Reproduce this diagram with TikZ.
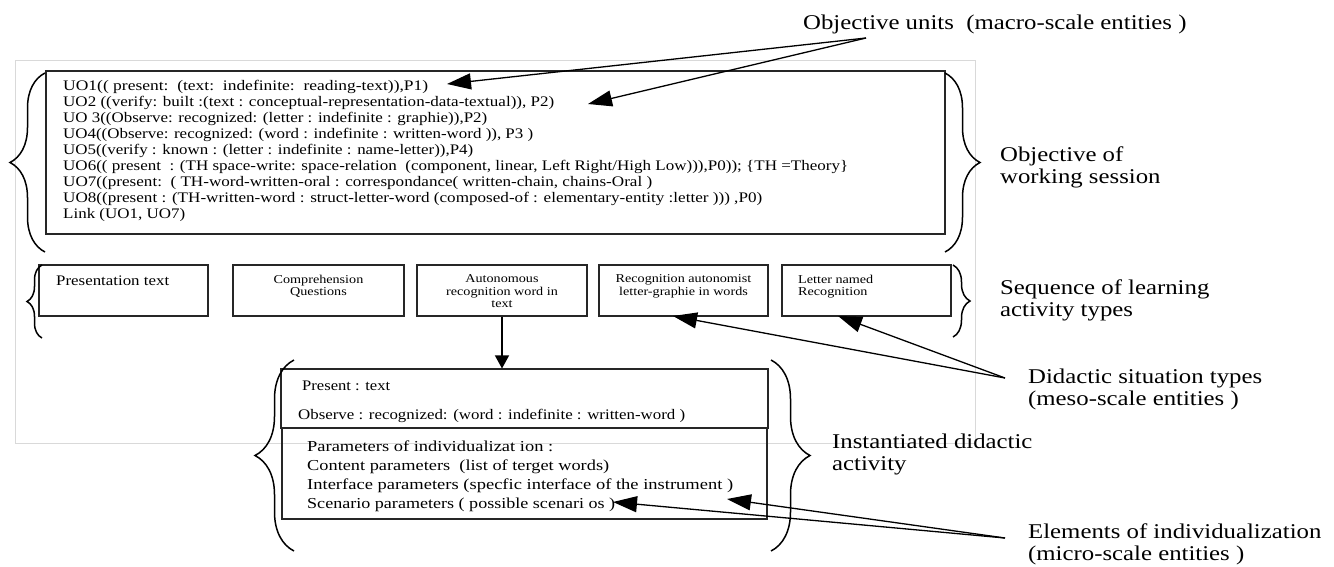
\documentclass[tikz,border=0pt]{standalone}
\usepackage{fontspec}
\usepackage{graphicx}
\setmainfont{Liberation Serif}[FakeStretch=1.18]
\usetikzlibrary{arrows.meta,decorations.pathreplacing}
\newcommand\fitto[2]{\resizebox{#1}{\height}{#2}}
\tikzset{
  box/.style={draw=black!85, line width=1.1pt, inner sep=0pt},
  arr/.style={line width=1.3pt, -{Triangle[length=24pt,width=16pt]}},
  arrsmall/.style={line width=1.3pt, -{Triangle[length=13pt,width=14pt]}},
  brc/.style={decorate, decoration={brace, amplitude=#1}, line width=1.5pt},
  uo/.style={anchor=base west, inner sep=0pt, font=\fontsize{14.6}{16}\selectfont},
  uol/.style={anchor=base west, inner sep=0pt, font=\fontsize{15.2}{16}\selectfont},
  lab/.style={anchor=west, inner sep=0pt, align=left, font=\fontsize{21}{22}\selectfont},
  lab1/.style={anchor=base west, inner sep=0pt, font=\fontsize{21}{22}\selectfont},
  small/.style={inner sep=0pt, font=\fontsize{12}{12.5}\selectfont},
}
\begin{document}
\begin{tikzpicture}[x=1pt,y=-1pt]
\useasboundingbox[fill=white] (0,0) rectangle (1334,566);
% light background frame
\draw[black!15, line width=0.8pt] (15,60) rectangle (975,443);

% objective box
\node[box, minimum width=899, minimum height=163] (uobox) at (495.5,152.5) {};
\node[uo] (u1) at (63,90)  {\fitto{365pt}{UO1(( present:\ \ (text:\ \ indefinite:\ \ reading-text)),P1)}};
\node[uo] (u2) at (63,106) {\fitto{491pt}{UO2 ((verify: built :(text : conceptual-representation-data-textual)), P2)}};
\node[uo] (u3) at (63,122) {\fitto{424pt}{UO 3((Observe: recognized: (letter : indefinite : graphie)),P2)}};
\node[uo] (u4) at (63,138) {\fitto{470pt}{UO4((Observe: recognized: (word : indefinite : written-word )), P3 )}};
\node[uo] (u5) at (63,154) {\fitto{410pt}{UO5((verify : known : (letter : indefinite : name-letter)),P4)}};
\node[uo] (u6) at (63,170) {\fitto{785pt}{UO6(( present\ \ : (TH space-write: space-relation\ \ (component, linear, Left Right/High Low))),P0)); \{TH =Theory\}}};
\node[uo] (u7) at (63,186) {\fitto{589pt}{UO7((present:\ \ ( TH-word-written-oral : correspondance( written-chain, chains-Oral )}};
\node[uo] (u8) at (63,202) {\fitto{699pt}{UO8((present : (TH-written-word : struct-letter-word (composed-of : elementary-entity :letter ))) ,P0)}};
\node[uo] (u9) at (63,218) {\fitto{122pt}{Link (UO1, UO7)}};

% braces of objective box
\draw[brc=35pt] (45,252) -- (45,73);
\draw[brc=35pt] (945,73) -- (945,252);

% activity boxes
\node[box, minimum width=169, minimum height=51] (a1) at (123.5,290.5) {};
\node[box, minimum width=171, minimum height=51] (a2) at (318.5,290.5) {};
\node[box, minimum width=170, minimum height=51] (a3) at (502,290.5) {};
\node[box, minimum width=169, minimum height=51] (a4) at (683.5,290.5) {};
\node[box, minimum width=169, minimum height=51] (a5) at (866.5,290.5) {};
\node[uo] (t1) at (56,285) {\fitto{113pt}{Presentation text}};
\node[small, anchor=north, align=center] (t2) at (318.5,274.5) {Comprehension\\Questions};
\node[small, anchor=north, align=center] (t3) at (502,274.5) {Autonomous\\recognition word in\\text};
\node[small, anchor=north, align=center] (t4) at (683.5,274.5) {Recognition autonomist\\letter-graphie in words};
\node[small, anchor=north west, align=left] (t5) at (798,274.5) {Letter named\\Recognition};
\draw[brc=15pt] (42,338) -- (42,265);
\draw[brc=17pt] (953,265) -- (953,337);

% instantiated activity
\node[box, minimum width=487, minimum height=59] (iup) at (524.5,398.5) {};
\node[box, line width=1.8pt, minimum width=485, minimum height=91] (ilow) at (524.5,473.5) {};
\node[uo] (p1) at (302,390) {\fitto{88pt}{Present : text}};
\node[uo] (p2) at (298,419) {\fitto{387pt}{Observe : recognized: (word : indefinite : written-word )}};
\node[uol] (q1) at (307,451) {\fitto{246pt}{Parameters of individualizat ion :}};
\node[uol] (q2) at (307,470) {\fitto{302pt}{Content parameters\ \ (list of terget words)}};
\node[uol] (q3) at (307,489) {\fitto{426pt}{Interface parameters (specfic interface of the instrument\ )}};
\node[uol] (q4) at (307,508) {\fitto{308pt}{Scenario parameters ( possible scenari os )}};
\draw[brc=39pt] (294,551) -- (294,360);
\draw[brc=39pt] (771,360) -- (771,551);
\draw[arrsmall] (a3.south) -- (a3.south |- iup.north);

% right-hand labels
\node[lab1] (lobj) at (803,29) {Objective units\ \ (macro-scale entities )};
\node[lab] (lses) at (1000,167) {Objective of\\working session};
\node[lab] (lseq) at (1000,300.5) {Sequence of learning\\activity types};
\node[lab] (ldid) at (1028,389.5) {Didactic situation types\\(meso-scale entities )};
\node[lab] (lins) at (832,454) {Instantiated didactic\\activity};
\node[lab] (lel) at (1028,544) {Elements of individualization\\(micro-scale entities )};

% connectors
\coordinate (so) at (866,38);
\coordinate (o1) at (447,84);
\coordinate (o2) at (588,104);
\draw[arr] (so) -- (o1);
\draw[arr] (so) -- (o2);
\coordinate (sd) at (1005,378);
\coordinate (d1) at (673,316);
\coordinate (d2) at (838,316);
\draw[arr] (sd) -- (d1);
\draw[arr] (sd) -- (d2);
\coordinate (se) at (1005,538);
\coordinate (e1) at (613,502);
\coordinate (e2) at (727,499);
\draw[arr] (se) -- (e1);
\draw[arr] (se) -- (e2);
\end{tikzpicture}
\end{document}
